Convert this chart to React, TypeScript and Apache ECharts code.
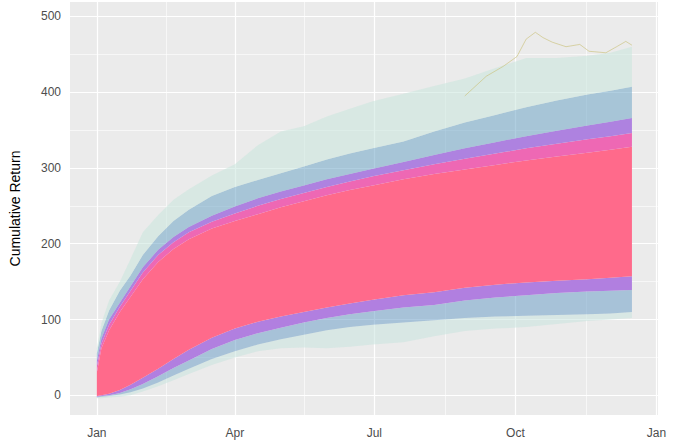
import React, { useEffect, useRef } from "react";
import * as echarts from "echarts";

const days = [0, 3, 8, 15, 22, 30, 40, 50, 60, 75, 90, 105, 120, 135, 150, 165, 180, 200, 220, 240, 260, 280, 300, 320, 335, 349];
const minF = [-4, -4, -3, -2, 0, 5, 12, 20, 28, 40, 50, 58, 62, 63, 62, 64, 67, 70, 78, 85, 88, 90, 94, 98, 100, 102];
const loF = [-3, -2, -1, 1, 4, 9, 17, 26, 35, 48, 58, 67, 74, 80, 86, 90, 93, 96, 99, 102, 104, 105, 106, 107, 108, 110];
const loP = [-2, -1, 0, 3, 8, 15, 25, 36, 46, 61, 73, 82, 89, 96, 102, 107, 111, 116, 119, 125, 129, 132, 135, 137, 138, 139];
const loK = [-1, 0, 2, 7, 14, 23, 35, 48, 60, 76, 88, 97, 104, 110, 116, 121, 126, 132, 136, 142, 146, 149, 151, 153, 155, 157];
const hiK = [30, 62, 86, 110, 130, 153, 176, 193, 206, 220, 230, 239, 248, 256, 264, 271, 277, 285, 292, 298, 304, 310, 315, 320, 324, 328];
const hiM = [38, 68, 93, 117, 138, 162, 185, 202, 215, 229, 240, 250, 259, 267, 275, 282, 289, 297, 305, 312, 319, 326, 332, 338, 342, 346];
const hiP = [45, 75, 100, 122, 144, 169, 192, 209, 222, 237, 249, 260, 269, 277, 285, 292, 299, 308, 317, 326, 334, 342, 349, 356, 361, 366];
const hiF = [55, 85, 112, 138, 158, 185, 210, 230, 245, 263, 275, 284, 293, 302, 311, 319, 326, 335, 348, 360, 370, 380, 389, 397, 402, 407];
const maxF = [62, 95, 125, 150, 180, 215, 238, 258, 272, 290, 305, 330, 348, 355, 368, 378, 388, 398, 408, 418, 432, 445, 445, 448, 452, 460];

// A single high path visible above the cloud in autumn
const outlierDays = [240, 254, 265, 274, 280, 286, 291, 297, 306, 315, 321, 332, 339, 345, 349];
const outlierVals = [395, 421, 434, 447, 470, 479, 472, 466, 460, 463, 454, 452, 460, 467, 462];

// Axis ticks
const tickDays = [0, 90, 181, 273, 365];
const tickLabels = ["Jan", "Apr", "Jul", "Oct", "Jan"];
const minorDays = [45, 135.5, 227, 319];
const yTicks = [0, 100, 200, 300, 400, 500];
const yMinor = [50, 150, 250, 350, 450];

const FONT = "Liberation Sans, Arial, sans-serif";

const bands = [
  { lower: minF, upper: loF, color: "rgba(200,228,222,0.55)" },
  { lower: loF, upper: loP, color: "rgba(112,160,200,0.55)" },
  { lower: loP, upper: loK, color: "#B17FE0" },
  { lower: loK, upper: hiK, color: "#FF6A8B" },
  { lower: hiK, upper: hiM, color: "#EE68B4" },
  { lower: hiM, upper: hiP, color: "#AE82E0" },
  { lower: hiP, upper: hiF, color: "rgba(112,165,198,0.55)" },
  { lower: hiF, upper: maxF, color: "rgba(200,230,220,0.55)" },
];

export default function App() {
  const ref = useRef<HTMLDivElement>(null);
  useEffect(() => {
    document.body.style.margin = "0";
    const chart = echarts.init(ref.current as HTMLDivElement, null, { renderer: "svg" });

    const mk = (v: number, axis: "xAxis" | "yAxis", w: number) => ({
      [axis]: v,
      lineStyle: { color: "#ffffff", width: w, type: "solid" },
    });

    const series: any[] = [
      {
        type: "line",
        name: "grid",
        data: [],
        z: 1,
        silent: true,
        markLine: {
          silent: true,
          symbol: ["none", "none"],
          label: { show: false },
          animation: false,
          z: 1,
          data: [
            ...yMinor.map((v) => mk(v, "yAxis", 0.6)),
            ...minorDays.map((v) => mk(v, "xAxis", 0.6)),
            ...yTicks.map((v) => mk(v, "yAxis", 1.2)),
            ...tickDays.map((v) => mk(v, "xAxis", 1.2)),
          ],
        },
      },
      {
        type: "custom",
        name: "cloud",
        z: 3,
        silent: true,
        clip: true,
        data: bands.map((_, k) => [days[0], k]),
        encode: { x: 0, y: 1 },
        renderItem: (params: any, api: any) => {
          const k = params.dataIndex;
          const b = bands[k];
          const pts: number[][] = [];
          for (let i = 0; i < days.length; i++) pts.push(api.coord([days[i], b.upper[i]]));
          for (let i = days.length - 1; i >= 0; i--) pts.push(api.coord([days[i], b.lower[i]]));
          return {
            type: "polygon",
            shape: { points: pts },
            style: { fill: b.color },
            silent: true,
          };
        },
      },
      {
        type: "line",
        name: "outlier",
        data: outlierDays.map((d, i) => [d, outlierVals[i]]),
        symbol: "none",
        lineStyle: { width: 0.8, color: "#C9C27A", opacity: 0.8 },
        z: 4,
        silent: true,
      },
    ];

    chart.setOption({
      animation: false,
      grid: {
        left: 70,
        right: 22,
        top: 2,
        bottom: 32,
        show: true,
        backgroundColor: "#EBEBEB",
        borderWidth: 0,
      },
      xAxis: {
        type: "value",
        min: -17.5,
        max: 366,
        axisLine: { show: false },
        splitLine: { show: false },
        axisTick: {
          show: true,
          customValues: tickDays,
          length: 3,
          lineStyle: { color: "#333333", width: 1 },
        },
        axisLabel: {
          customValues: tickDays,
          margin: 12,
          color: "#4D4D4D",
          fontSize: 12,
          fontFamily: FONT,
          formatter: (v: number) => {
            const idx = tickDays.indexOf(v);
            return idx >= 0 ? tickLabels[idx] : "";
          },
        },
      },
      yAxis: {
        type: "value",
        min: -26,
        max: 519,
        name: "Cumulative Return",
        nameLocation: "middle",
        nameGap: 48,
        nameTextStyle: { color: "#000000", fontSize: 14, fontFamily: FONT },
        axisLine: { show: false },
        splitLine: { show: false },
        axisTick: {
          show: true,
          customValues: yTicks,
          length: 3,
          lineStyle: { color: "#333333", width: 1 },
        },
        axisLabel: {
          customValues: yTicks,
          margin: 9,
          color: "#4D4D4D",
          fontSize: 12,
          fontFamily: FONT,
        },
      },
      series,
    });
    return () => chart.dispose();
  }, []);
  return <div ref={ref} style={{ width: 680, height: 447 }} />;
}
